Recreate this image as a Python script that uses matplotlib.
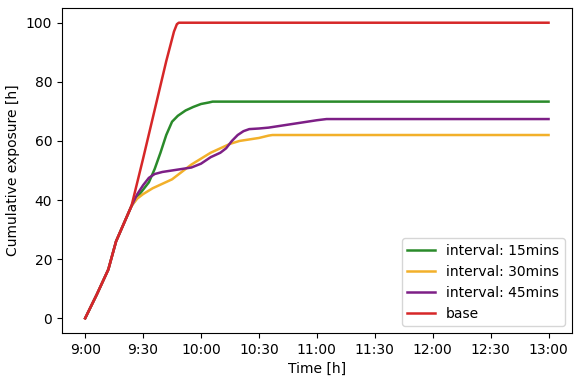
import numpy as np
import matplotlib
matplotlib.use("Agg")
import matplotlib.pyplot as plt

plt.rcParams.update({"font.family": "DejaVu Sans", "font.size": 10})

# minutes after 9:00 and cumulative exposure [h]
shared_t = [0, 6, 12, 16, 20, 24]
shared_v = [0, 8, 16.5, 26, 32, 38]

green_t = shared_t + [27, 30, 33, 36, 39, 42, 45, 48, 52, 56, 60, 64, 66, 240]
green_v = shared_v + [41, 43.5, 46, 50.5, 56, 62, 66.5, 68.5, 70.3, 71.5, 72.5, 73, 73.3, 73.3]

orange_t = shared_t + [27, 30, 35, 40, 45, 50, 55, 60, 65, 70, 75, 80, 85, 90, 95, 97, 240]
orange_v = shared_v + [40.5, 42, 44, 45.5, 47, 49.5, 52, 54, 56, 57.5, 59, 60, 60.5, 61, 61.8, 62, 62]

purple_t = shared_t + [27, 30, 33, 36, 40, 45, 50, 55, 60, 65, 70, 73, 76, 79, 82, 85,
                       90, 95, 100, 105, 110, 115, 120, 125, 127, 240]
purple_v = shared_v + [42, 45, 47.5, 48.8, 49.5, 50, 50.5, 51, 52.3, 54.5, 56, 57.5, 60, 62,
                       63.3, 64, 64.2, 64.5, 65, 65.5, 66, 66.5, 67, 67.4, 67.4, 67.4]

base_t = shared_t + [30, 36, 42, 46, 47.5, 48.5, 240]
base_v = shared_v + [54, 70.5, 87, 97, 99.5, 100, 100]

tick_min = np.arange(0, 241, 30)
tick_lbl = ["9:00", "9:30", "10:00", "10:30", "11:00", "11:30", "12:00", "12:30", "13:00"]

fig = plt.figure(figsize=(5.74, 3.78), dpi=100)
ax = fig.add_axes([0.108, 0.119, 0.888, 0.860])
ax.plot(green_t, green_v, color="#2a8a2a", lw=1.8, label="interval: 15mins")
ax.plot(orange_t, orange_v, color="#f2b02a", lw=1.8, label="interval: 30mins")
ax.plot(purple_t, purple_v, color="#7d1f86", lw=1.8, label="interval: 45mins")
ax.plot(base_t, base_v, color="#d62728", lw=1.8, label="base")
ax.set_xticks(tick_min)
ax.set_xticklabels(tick_lbl)
ax.set_yticks([0, 20, 40, 60, 80, 100])
ax.set_xlabel("Time [h]")
ax.set_ylabel("Cumulative exposure [h]")
ax.legend(loc="lower right")
fig.savefig("out.png", dpi=100, facecolor="white")
